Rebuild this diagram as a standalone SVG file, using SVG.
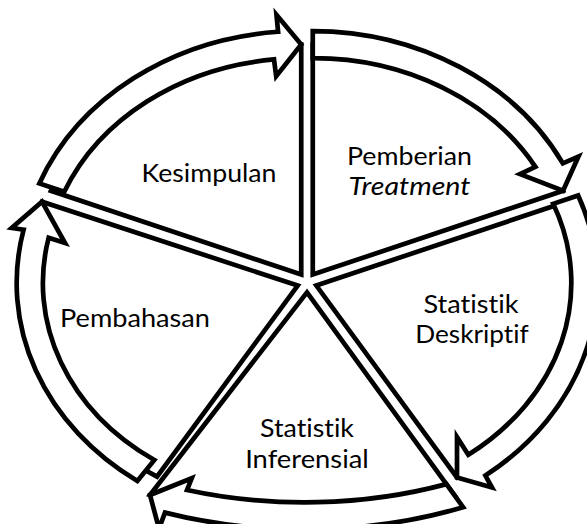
<svg xmlns="http://www.w3.org/2000/svg" width="587" height="524" viewBox="0 0 587 524">
  <style>
    .wedge { fill: #ffffff; stroke: #000000; stroke-width: 4.7; stroke-linejoin: miter; stroke-miterlimit: 10; }
    .arrow { fill: #ffffff; stroke: #000000; stroke-width: 4.7; stroke-linejoin: miter; stroke-miterlimit: 10; }
    .label { font-family: Lato, "Open Sans", "Liberation Sans", sans-serif; font-size: 25px; fill: #000000; text-anchor: middle; font-variant-ligatures: none; font-feature-settings: "liga" 0, "clig" 0; }
    .it { font-style: italic; }
  </style>
  <rect x="0" y="0" width="587" height="524" fill="#ffffff"/>

  <g id="node-kesimpulan">
    <path class="wedge" d="M 301.24,274.57 L 50.95,190.75 A 268 227.5 0 0 1 301.24,44.57 Z"/>
    <text class="label" x="209" y="182" textLength="135" lengthAdjust="spacingAndGlyphs">Kesimpulan</text>
  </g>

  <g id="node-pemberian-treatment">
    <path class="wedge" d="M 312.76,274.57 L 312.76,44.57 A 268 227.5 0 0 1 563.05,190.75 Z"/>
    <text class="label" x="409.5" y="165" textLength="125" lengthAdjust="spacingAndGlyphs">Pemberian</text>
    <text class="label it" x="409.5" y="195" textLength="122" lengthAdjust="spacingAndGlyphs">Treatment</text>
  </g>

  <g id="node-statistik-deskriptif">
    <path class="wedge" d="M 316.32,285.53 L 566.61,201.71 A 268 227.5 0 0 1 457,477.5 Z"/>
    <text class="label" x="471" y="313.3" textLength="95" lengthAdjust="spacingAndGlyphs">Statistik</text>
    <text class="label" x="472" y="343.3" textLength="113.4" lengthAdjust="spacingAndGlyphs">Deskriptif</text>
  </g>

  <g id="node-statistik-inferensial">
    <path class="wedge" d="M 307,292.3 L 454.77,495.69 A 363.5 226 0 0 1 150,495 Z"/>
    <text class="label" x="307" y="436.7" textLength="94" lengthAdjust="spacingAndGlyphs">Statistik</text>
    <text class="label" x="307" y="468.3" textLength="123.7" lengthAdjust="spacingAndGlyphs">Inferensial</text>
  </g>

  <g id="node-pembahasan">
    <path class="wedge" d="M 297.68,285.53 L 157,476.66 A 268 227.5 0 0 1 42,201.7 Z"/>
    <text class="label" x="135" y="326.7" textLength="150" lengthAdjust="spacingAndGlyphs">Pembahasan</text>
  </g>

  <g id="connectors">
    <path id="arrow-1" class="arrow" d="M 39.34,183.42 A 281 241 0 0 1 278.10,31.77 L 276.47,14.85 L 301.24,44.57 L 276.16,76.27 L 274.00,59.41 A 255 214 0 0 0 64.25,191.85 Z"/>
    <path id="arrow-2" class="arrow" d="M 312.76,31.07 A 281 241 0 0 1 562.84,163.33 L 578.43,156.55 L 563.05,190.75 L 520.04,174.09 L 535.41,166.82 A 255 214 0 0 0 312.76,58.07 Z"/>
    <path id="arrow-3" class="arrow" d="M 578.15,195.42 A 281 241 0 0 1 485.41,475.51 L 492,487.5 L 457,477.5 L 457,437 L 468.3,454.8 A 255 214 0 0 0 553.21,203.77 Z"/>
    <path id="arrow-4" class="arrow" d="M 463.09,507.14 A 377 239.5 0 0 1 165,512.6 L 159,528.6 L 150,495 L 191.7,478.3 L 187,490 A 350 212.5 0 0 0 446.37,484.12 Z"/>
    <path id="arrow-5" class="arrow" d="M 137.39,480.98 A 281 241 0 0 1 23.61,229.76 L 11.7,228 L 42,201.7 L 65,243 L 48.66,237.78 A 255 214 0 0 0 154.35,460.03 Z"/>
  </g>
</svg>
